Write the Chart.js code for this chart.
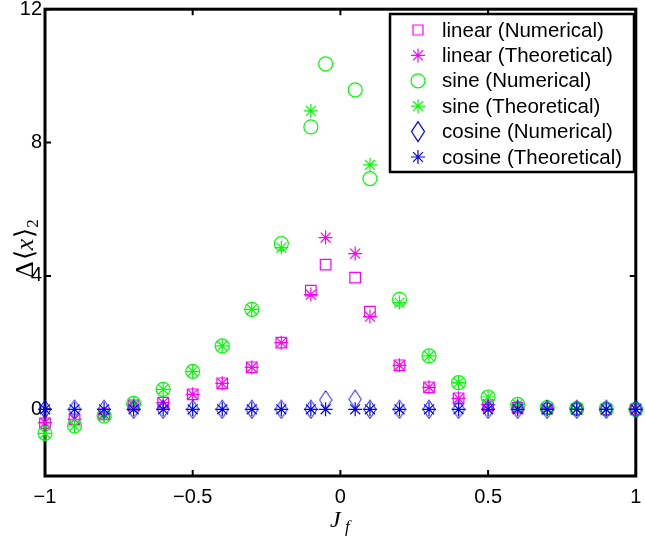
<!DOCTYPE html>
<html>
<head>
<meta charset="utf-8">
<script src="https://cdn.jsdelivr.net/npm/chart.js@4.4.1/dist/chart.umd.min.js"></script>
<style>
  body { margin: 0; background: #fff; }
  #wrap { width: 645px; height: 538px; }
</style>
</head>
<body>
<div id="wrap"><canvas id="plot" width="645" height="538"></canvas></div>
<script>
// J_f positions (the sine theory has no point at +-0.05)
const jf = [-1, -0.9, -0.8, -0.7, -0.6, -0.5, -0.4, -0.3, -0.2, -0.1, -0.05,
            0.05, 0.1, 0.2, 0.3, 0.4, 0.5, 0.6, 0.7, 0.8, 0.9, 1]

const linearNum = [-0.42, -0.3, -0.15, 0.12, 0.2, 0.45, 0.78, 1.26, 2.0, 3.56, 4.34,
                   3.95, 2.93, 1.32, 0.66, 0.33, 0.12, 0.05, 0.02, 0.01, 0, 0]
const linearTheo = [-0.4, -0.3, -0.15, 0.12, 0.2, 0.45, 0.78, 1.26, 2.0, 3.44, 5.15,
                    4.67, 2.78, 1.32, 0.66, 0.33, 0.15, 0.05, 0.02, 0.01, 0, 0]
const sineNum = [-0.72, -0.5, -0.2, 0.18, 0.6, 1.14, 1.9, 3.0, 4.97, 8.47, 10.36,
                 9.58, 6.92, 3.3, 1.6, 0.8, 0.37, 0.15, 0.05, 0.02, 0.01, 0]
const sineTheo = [-0.72, -0.5, -0.2, 0.18, 0.6, 1.14, 1.9, 3.0, 4.85, 8.95, null,
                  null, 7.33, 3.2, 1.6, 0.8, 0.37, 0.15, 0.05, 0.02, 0.01, 0]
const cosineNum = [0, 0, 0, 0, 0, 0, 0, 0, 0, 0, 0.28,
                   0.3, 0, 0, 0, 0, 0, 0, 0, 0, 0, 0]
const cosineTheo = [0, 0, 0, 0, 0, 0, 0, 0, 0, 0, 0,
                    0, 0, 0, 0, 0, 0, 0, 0, 0, 0, 0]

const xTicks = [-1, -0.5, 0, 0.5, 1]
const yTicks = [0, 4, 8, 12]

const MAGENTA = '#ff00ff'
const GREEN = '#00ff00'
const BLUE = '#0000ff'
const FONT = '"Liberation Sans", Arial, Helvetica, sans-serif'
const SERIF = '"Liberation Serif", "Times New Roman", serif'

// matlab style diamond is a bit taller than wide
function makeDiamond(color) {
    const c = document.createElement('canvas')
    c.width = 14
    c.height = 20
    const g = c.getContext('2d')
    g.strokeStyle = color
    g.lineWidth = 1
    g.beginPath()
    g.moveTo(7, 0.8)
    g.lineTo(13.2, 10)
    g.lineTo(7, 19.2)
    g.lineTo(0.8, 10)
    g.closePath()
    g.stroke()
    return c
}
const diamond = makeDiamond(BLUE)

const toPts = (ys) => jf.map((x, i) => ({ x: x, y: ys[i] })).filter(p => p.y !== null)

const series = [
    { label: 'linear (Numerical)', data: linearNum, color: MAGENTA, style: 'rect', r: 7.5, order: 6 },
    { label: 'linear (Theoretical)', data: linearTheo, color: MAGENTA, style: 'star', r: 7, order: 5 },
    { label: 'sine (Numerical)', data: sineNum, color: GREEN, style: 'circle', r: 7, order: 4 },
    { label: 'sine (Theoretical)', data: sineTheo, color: GREEN, style: 'star', r: 7, order: 3 },
    { label: 'cosine (Numerical)', data: cosineNum, color: BLUE, style: diamond, r: 8, order: 2 },
    { label: 'cosine (Theoretical)', data: cosineTheo, color: BLUE, style: 'star', r: 7, order: 1 },
]

function legendMarker(ctx, s, x, y) {
    ctx.save()
    ctx.strokeStyle = s.color
    ctx.lineWidth = 1.2
    ctx.beginPath()
    if (s.style === 'rect') {
        ctx.rect(x - 5, y - 5, 10, 10)
    } else if (s.style === 'circle') {
        ctx.arc(x, y, 7, 0, Math.PI * 2)
    } else if (s.style === 'star') {
        const r = 7, d = r * Math.SQRT1_2
        ctx.moveTo(x, y - r); ctx.lineTo(x, y + r)
        ctx.moveTo(x - r, y); ctx.lineTo(x + r, y)
        ctx.moveTo(x - d, y - d); ctx.lineTo(x + d, y + d)
        ctx.moveTo(x - d, y + d); ctx.lineTo(x + d, y - d)
    } else {
        ctx.moveTo(x, y - 10); ctx.lineTo(x + 6.5, y)
        ctx.lineTo(x, y + 10); ctx.lineTo(x - 6.5, y)
        ctx.closePath()
    }
    ctx.stroke()
    ctx.restore()
}

const boxPlugin = {
    id: 'box',
    beforeDatasetsDraw(chart) {
        const { ctx, chartArea: a, scales } = chart
        ctx.save()
        ctx.strokeStyle = '#000'
        ctx.lineWidth = 2
        ctx.beginPath()
        xTicks.forEach(v => {
            const px = scales.x.getPixelForValue(v)
            ctx.moveTo(px, a.bottom); ctx.lineTo(px, a.bottom - 6)
            ctx.moveTo(px, a.top); ctx.lineTo(px, a.top + 6)
        })
        yTicks.forEach(v => {
            const py = scales.y.getPixelForValue(v)
            ctx.moveTo(a.left, py); ctx.lineTo(a.left + 6, py)
            ctx.moveTo(a.right, py); ctx.lineTo(a.right - 6, py)
        })
        ctx.stroke()
        ctx.lineWidth = 3
        ctx.strokeRect(a.left, a.top, a.right - a.left, a.bottom - a.top)
        ctx.restore()
    },
    afterDraw(chart) {
        const { ctx } = chart
        ctx.save()

        // legend box
        const lx = 390, ly = 14, lw = 244, lh = 158
        ctx.fillStyle = '#fff'
        ctx.fillRect(lx, ly, lw, lh)
        ctx.strokeStyle = '#000'
        ctx.lineWidth = 2.5
        ctx.strokeRect(lx, ly, lw, lh)
        ctx.font = '20.5px ' + FONT
        ctx.fillStyle = '#000'
        ctx.textBaseline = 'middle'
        ctx.textAlign = 'left'
        series.forEach((s, i) => {
            const y = 30 + i * 25.4
            legendMarker(ctx, s, 418, y)
            ctx.fillText(s.label, 442, y + 1)
        })

        // x axis title: J_f
        ctx.textBaseline = 'alphabetic'
        ctx.font = 'italic 24px ' + SERIF
        ctx.fillText('J', 330, 527)
        ctx.font = 'italic 17px ' + SERIF
        ctx.fillText('f', 345, 532)

        // y axis title: Delta <x>_2, rotated
        ctx.translate(33, 278)
        ctx.rotate(-Math.PI / 2)
        ctx.font = '26px ' + SERIF
        ctx.fillText('\u0394', 0, 0)
        let w = ctx.measureText('\u0394').width + 1
        ctx.fillText('\u27E8', w, 0)
        w += ctx.measureText('\u27E8').width
        ctx.font = 'italic 26px ' + SERIF
        ctx.fillText('x', w, 0)
        w += ctx.measureText('x').width + 1
        ctx.font = '26px ' + SERIF
        ctx.fillText('\u27E9', w, 0)
        w += ctx.measureText('\u27E9').width
        ctx.font = '17px ' + SERIF
        ctx.fillText('2', w, 5)
        ctx.restore()
    }
}

// keep chart.js from reserving room for half tick labels at the edges
function noEdgePadding(scale) {
    scale.paddingLeft = 0
    scale.paddingRight = 0
    scale.paddingTop = 0
    scale.paddingBottom = 0
}

const ctx = document.getElementById('plot').getContext('2d')
new Chart(ctx, {
    type: 'scatter',
    data: {
        datasets: series.map(s => ({
            label: s.label,
            data: toPts(s.data),
            order: s.order,
            pointStyle: s.style,
            pointRadius: s.r,
            pointHoverRadius: s.r,
            pointBorderWidth: 1.2,
            borderColor: s.color,
            backgroundColor: 'rgba(0,0,0,0)',
            showLine: false,
            clip: false
        }))
    },
    options: {
        responsive: false,
        animation: false,
        devicePixelRatio: 1,
        layout: { padding: { left: 0, top: 9, right: 5, bottom: 0 } },
        plugins: {
            legend: { display: false },
            tooltip: { enabled: false }
        },
        scales: {
            x: {
                type: 'linear',
                min: -1,
                max: 1,
                afterBuildTicks: (scale) => { scale.ticks = xTicks.map(v => ({ value: v })) },
                afterFit: (scale) => { scale.height = 62; noEdgePadding(scale) },
                grid: { display: false, drawTicks: false },
                border: { display: false },
                ticks: {
                    padding: 9,
                    color: '#000',
                    font: { family: FONT, size: 20 },
                    maxRotation: 0,
                    callback: (v) => String(v).replace('-', '\u2212')
                }
            },
            y: {
                type: 'linear',
                min: -2,
                max: 12,
                afterBuildTicks: (scale) => { scale.ticks = yTicks.map(v => ({ value: v })) },
                afterFit: (scale) => { scale.width = 45; noEdgePadding(scale) },
                grid: { display: false, drawTicks: false },
                border: { display: false },
                ticks: {
                    padding: 3,
                    color: '#000',
                    font: { family: FONT, size: 20 }
                }
            }
        }
    },
    plugins: [boxPlugin]
})
</script>
</body>
</html>
